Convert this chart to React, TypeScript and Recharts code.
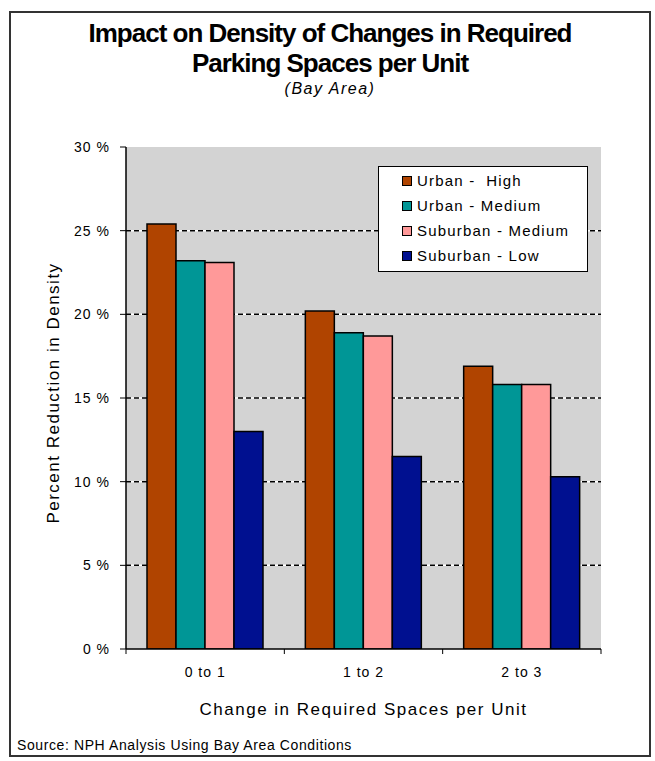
import React from "react";
import { BarChart, Bar, XAxis, YAxis, CartesianGrid, ReferenceLine } from "recharts";

const categories = ["0 to 1", "1 to 2", "2 to 3"];
const urbanHigh = [25.4, 20.2, 16.9];
const urbanMedium = [23.2, 18.9, 15.8];
const suburbanMedium = [23.1, 18.7, 15.8];
const suburbanLow = [13.0, 11.5, 10.3];
const yTicks = [0, 5, 10, 15, 20, 25, 30];
const gridValues = [5, 10, 15, 20, 25];

const series = [
  { key: "urbanHigh", name: "Urban -  High", color: "#b04400" },
  { key: "urbanMedium", name: "Urban - Medium", color: "#009696" },
  { key: "suburbanMedium", name: "Suburban - Medium", color: "#ff9999" },
  { key: "suburbanLow", name: "Suburban - Low", color: "#001090" },
];

const data = categories.map((c, i) => ({
  category: c,
  urbanHigh: urbanHigh[i],
  urbanMedium: urbanMedium[i],
  suburbanMedium: suburbanMedium[i],
  suburbanLow: suburbanLow[i],
}));

// short tick marks on the category boundaries, below the x axis
const edgeMarks = [
  ...categories.map((c) => ({ cat: c, position: "start" as const })),
  { cat: categories[categories.length - 1], position: "end" as const },
];

const FONT = "'Liberation Sans', Arial, sans-serif";

function LegendBox() {
  return (
    <div
      style={{
        position: "absolute",
        left: 378,
        top: 166,
        width: 210,
        height: 106,
        border: "1.5px solid #000",
        background: "#fff",
        boxSizing: "border-box",
        padding: "1px 0 0 23px",
        fontSize: 15,
        letterSpacing: 1.2,
        color: "#000",
      }}
    >
      {series.map((s) => (
        <div key={s.key} style={{ display: "flex", alignItems: "center", height: 25 }}>
          <span
            style={{
              display: "inline-block",
              width: 8,
              height: 8,
              background: s.color,
              border: "1px solid #000",
              marginRight: 5,
            }}
          />
          <span style={{ whiteSpace: "pre" }}>{s.name}</span>
        </div>
      ))}
    </div>
  );
}

export default function App() {
  return (
    <div style={{ position: "relative", width: 655, height: 761, background: "#fff", fontFamily: FONT }}>
      <style>{`body{margin:0}`}</style>
      <div
        style={{
          position: "absolute",
          left: 9,
          top: 11,
          width: 642,
          height: 746,
          border: "2px solid #333",
          boxSizing: "border-box",
        }}
      />
      <div
        style={{
          position: "absolute",
          left: 0,
          width: 660,
          top: 18,
          textAlign: "center",
          fontWeight: "bold",
          fontSize: 26,
          letterSpacing: -1,
          lineHeight: "30px",
          color: "#000",
        }}
      >
        Impact on Density of Changes in Required
        <br />
        Parking Spaces per Unit
      </div>
      <div
        style={{
          position: "absolute",
          left: 0,
          width: 660,
          top: 80,
          textAlign: "center",
          fontStyle: "italic",
          fontSize: 16,
          letterSpacing: 1.5,
          lineHeight: "18px",
          color: "#000",
        }}
      >
        (Bay Area)
      </div>
      <div
        style={{
          position: "absolute",
          left: 54,
          top: 393,
          transform: "translate(-50%, -50%) rotate(-90deg)",
          whiteSpace: "nowrap",
          fontSize: 17,
          letterSpacing: 1.5,
          color: "#000",
        }}
      >
        Percent Reduction in Density
      </div>
      <div
        style={{
          position: "absolute",
          left: 126,
          width: 475,
          top: 700,
          textAlign: "center",
          fontSize: 17,
          letterSpacing: 1.5,
          lineHeight: "20px",
          color: "#000",
        }}
      >
        Change in Required Spaces per Unit
      </div>
      <div
        style={{
          position: "absolute",
          left: 17,
          top: 737,
          fontSize: 14,
          letterSpacing: 0.6,
          lineHeight: "16px",
          color: "#000",
        }}
      >
        Source: NPH Analysis Using Bay Area Conditions
      </div>
      <div style={{ position: "absolute", left: 0, top: 0 }}>
        <BarChart
          width={655}
          height={761}
          data={data}
          margin={{ top: 147, right: 54, bottom: 82, left: 66 }}
          barCategoryGap={21}
          barGap={0}
        >
          <CartesianGrid
            fill="#d3d3d3"
            stroke="#ffffff"
            strokeWidth={1.5}
            vertical={false}
            horizontalValues={gridValues}
          />
          <CartesianGrid
            stroke="#000000"
            strokeWidth={1.5}
            strokeDasharray="5 3"
            vertical={false}
            horizontalValues={gridValues}
          />
          <XAxis
            dataKey="category"
            height={30}
            axisLine={{ stroke: "#000", strokeWidth: 1.5 }}
            tickLine={false}
            tickSize={0}
            tickMargin={18}
            tick={{ fill: "#000", fontSize: 14, fontFamily: FONT, letterSpacing: 1 }}
          />
          <YAxis
            width={60}
            domain={[0, 30]}
            ticks={yTicks}
            interval={0}
            allowDataOverflow
            tickFormatter={(v: number) => `${v} %`}
            axisLine={{ stroke: "#000", strokeWidth: 1.5 }}
            tickLine={{ stroke: "#000" }}
            tickSize={6}
            tickMargin={10}
            tick={{ fill: "#000", fontSize: 14, fontFamily: FONT, letterSpacing: 1 }}
          />
          {series.map((s) => (
            <Bar
              key={s.key}
              dataKey={s.key}
              name={s.name}
              fill={s.color}
              stroke="#000"
              strokeWidth={1.5}
              isAnimationActive={false}
            />
          ))}
          {edgeMarks.map((m, i) => (
            <ReferenceLine
              key={i}
              segment={[
                { x: m.cat, y: 0 },
                { x: m.cat, y: -0.3 },
              ]}
              position={m.position}
              ifOverflow="visible"
              stroke="#000"
              strokeWidth={1}
            />
          ))}
        </BarChart>
      </div>
      <LegendBox />
    </div>
  );
}
